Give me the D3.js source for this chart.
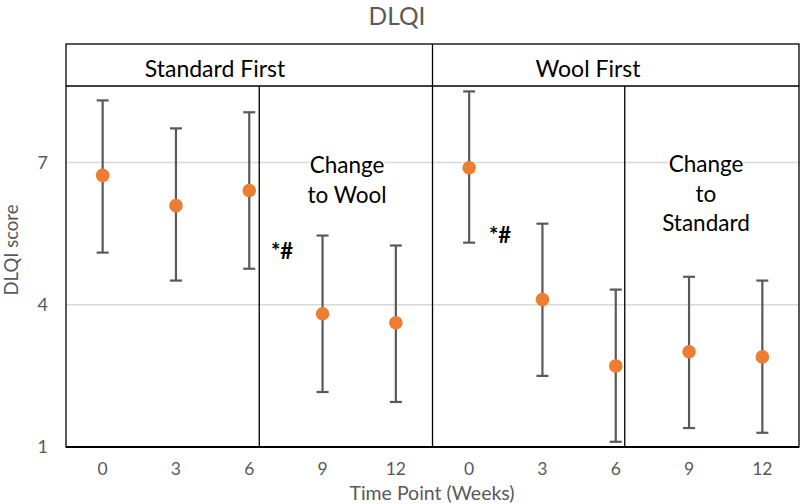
<!DOCTYPE html>
<html>
  <head>
    <meta charset="utf-8" />
    <script src="https://d3js.org/d3.v7.min.js"></script>
    <style>
      body { margin: 0; background: #fff; }
      text { font-family: Lato, "Open Sans", sans-serif; }
    </style>
  </head>
  <body>
    <svg id="chart"></svg>
    <script>
      // Data
      var weeks = ["0", "3", "6", "9", "12", "0", "3", "6", "9", "12"];
      var means = [6.73, 6.09, 6.41, 3.81, 3.62, 6.89, 4.11, 2.71, 3.01, 2.9];
      var upper = [8.31, 7.72, 8.06, 5.46, 5.25, 8.5, 5.71, 4.32, 4.59, 4.51];
      var lower = [5.1, 4.51, 4.76, 2.16, 1.95, 5.31, 2.5, 1.11, 1.4, 1.3];
      var yTicks = [1, 4, 7];
      var groups = ["Standard First", "Wool First"];

      var width = 800;
      var height = 504;
      var gray = "#595959";

      var svg = d3.select("#chart").attr("width", width).attr("height", height);

      var x = d3.scaleBand().domain(d3.range(weeks.length)).range([66, 799]);
      var y = d3.scaleLinear().domain([1, 9.5]).range([447, 44]);
      var cx = (i) => x(i) + x.bandwidth() / 2;

      // Gridlines
      svg.append("g")
        .selectAll("line")
        .data(yTicks.slice(1))
        .join("line")
        .attr("x1", 66)
        .attr("x2", 799)
        .attr("y1", (d) => y(d))
        .attr("y2", (d) => y(d))
        .style("stroke", "#d9d9d9")
        .style("stroke-width", 1.5);

      // Y tick labels
      svg.append("g")
        .selectAll("text")
        .data(yTicks)
        .join("text")
        .attr("x", 48)
        .attr("y", (d) => y(d) + 6)
        .attr("text-anchor", "end")
        .style("font-size", "18px")
        .style("fill", gray)
        .text((d) => d);

      // X tick labels
      svg.append("g")
        .selectAll("text")
        .data(weeks)
        .join("text")
        .attr("x", (d, i) => cx(i))
        .attr("y", 475)
        .attr("text-anchor", "middle")
        .style("font-size", "17.5px")
        .style("fill", gray)
        .text((d) => d);

      // Axis titles
      svg.append("text")
        .attr("x", 432)
        .attr("y", 500)
        .attr("text-anchor", "middle")
        .style("font-size", "19.5px")
        .style("fill", gray)
        .text("Time Point (Weeks)");

      svg.append("text")
        .attr("transform", "translate(18,250) rotate(-90)")
        .attr("text-anchor", "middle")
        .style("font-size", "18.5px")
        .style("fill", gray)
        .text("DLQI score");

      svg.append("text")
        .attr("x", 397)
        .attr("y", 25)
        .attr("text-anchor", "middle")
        .style("font-size", "24.5px")
        .style("fill", gray)
        .text("DLQI");

      // Box and dividers
      var box = svg.append("g").style("stroke", "#000").style("stroke-width", 1.3);
      var mid = x(5);
      var sw1 = cx(2) + 10;
      var sw2 = cx(7) + 9;
      box.append("rect")
        .attr("x", 66).attr("y", y(9.5))
        .attr("width", 799 - 66).attr("height", y(1) - y(9.5))
        .style("fill", "none");
      box.append("line").attr("x1", 66).attr("x2", 799).attr("y1", 86).attr("y2", 86);
      box.append("line").attr("x1", mid).attr("x2", mid).attr("y1", y(9.5)).attr("y2", y(1));
      box.append("line").attr("x1", sw1).attr("x2", sw1).attr("y1", 86).attr("y2", y(1));
      box.append("line").attr("x1", sw2).attr("x2", sw2).attr("y1", 86).attr("y2", y(1));
      svg.append("line")
        .attr("x1", 66).attr("x2", 799).attr("y1", y(1)).attr("y2", y(1))
        .style("stroke", "#000").style("stroke-width", 2);

      // Group headers
      svg.append("g")
        .selectAll("text")
        .data(groups)
        .join("text")
        .attr("x", (d, i) => (i === 0 ? 215 : 588))
        .attr("y", 77)
        .attr("text-anchor", "middle")
        .style("font-size", "23px")
        .style("fill", "#000")
        .text((d) => d);

      // Annotation text blocks with white background
      function block(lines, xc, y0) {
        var g = svg.append("g");
        lines.forEach(function (t, k) {
          var tx = g.append("text")
            .attr("x", xc)
            .attr("y", y0 + k * 29.5)
            .attr("text-anchor", "middle")
            .style("font-size", "22.5px")
            .style("fill", "#000")
            .text(t);
          var b = tx.node().getBBox();
          g.insert("rect", "text")
            .attr("x", b.x).attr("y", b.y)
            .attr("width", b.width).attr("height", b.height)
            .style("fill", "#fff");
        });
      }
      block(["Change", "to Wool"], 347, 173);
      block(["Change", "to", "Standard"], 706, 172);

      svg.append("text").attr("x", 271).attr("y", 259)
        .style("font-size", "22px").style("font-weight", "bold").text("*#");
      svg.append("text").attr("x", 489).attr("y", 243)
        .style("font-size", "22px").style("font-weight", "bold").text("*#");

      // Error bars
      var eb = svg.append("g").style("stroke", gray).style("stroke-width", 2.2);
      eb.selectAll(".stem")
        .data(means)
        .join("line")
        .attr("class", "stem")
        .attr("x1", (d, i) => cx(i)).attr("x2", (d, i) => cx(i))
        .attr("y1", (d, i) => y(upper[i])).attr("y2", (d, i) => y(lower[i]));
      [upper, lower].forEach(function (arr) {
        eb.append("g")
          .selectAll("line")
          .data(arr)
          .join("line")
          .attr("x1", (d, i) => cx(i) - 6).attr("x2", (d, i) => cx(i) + 6)
          .attr("y1", (d) => y(d)).attr("y2", (d) => y(d));
      });

      // Points
      svg.append("g")
        .selectAll("circle")
        .data(means)
        .join("circle")
        .attr("cx", (d, i) => cx(i))
        .attr("cy", (d) => y(d))
        .attr("r", 6.8)
        .style("fill", "#ED7D31");
    </script>
  </body>
</html>
